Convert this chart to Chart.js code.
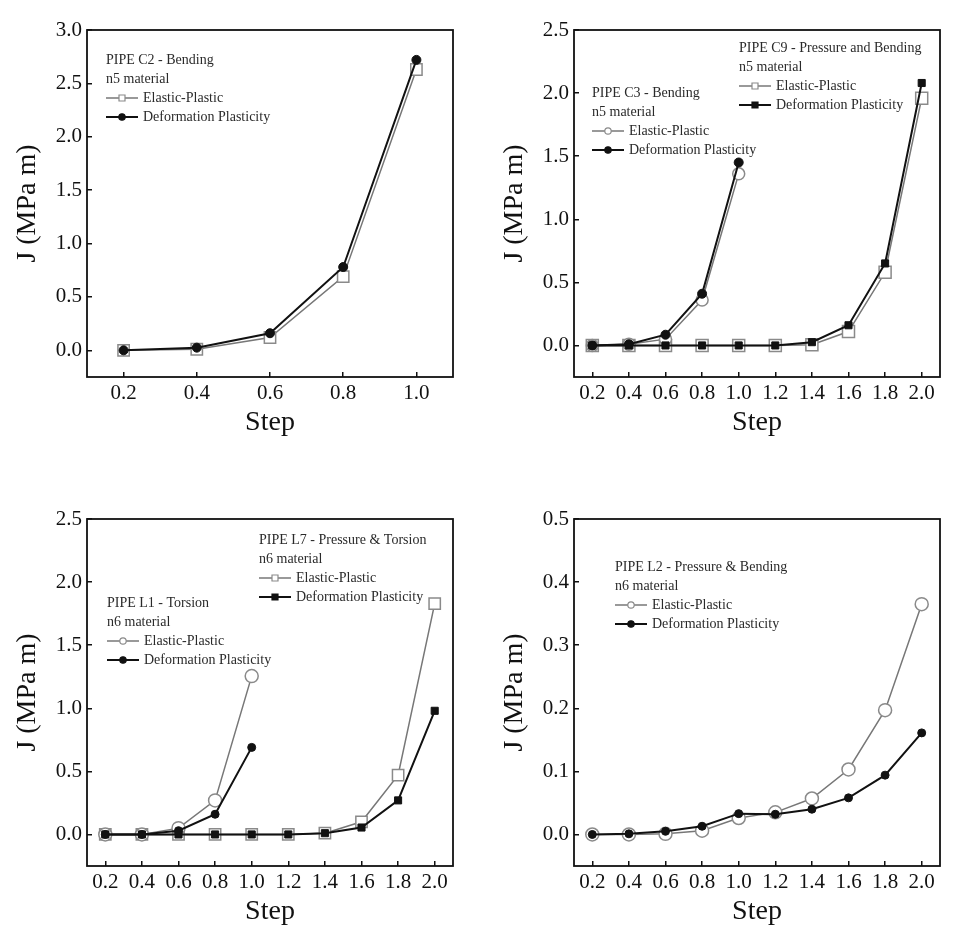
<!DOCTYPE html>
<html>
<head>
<meta charset="utf-8">
<title>J vs Step</title>
<script src="https://cdn.jsdelivr.net/npm/chart.js@4.4.1/dist/chart.umd.min.js"></script>
<style>
    html, body { margin: 0; padding: 0; background: #fff; overflow: hidden; }
    .panel { position: absolute; }
</style>
</head>
<body>
<div class="panel" style="left:0;top:0"><canvas id="chartC2" width="480" height="470"></canvas></div>
<div class="panel" style="left:480px;top:0"><canvas id="chartC3C9" width="480" height="470"></canvas></div>
<div class="panel" style="left:0;top:470px"><canvas id="chartL1L7" width="480" height="473"></canvas></div>
<div class="panel" style="left:480px;top:470px"><canvas id="chartL2" width="480" height="473"></canvas></div>
<script>
// Load steps and tick labels
const stepsShort = [0.2, 0.4, 0.6, 0.8, 1.0];
const stepsLong = [0.2, 0.4, 0.6, 0.8, 1.0, 1.2, 1.4, 1.6, 1.8, 2.0];
const yTicksC2 = [0.0, 0.5, 1.0, 1.5, 2.0, 2.5, 3.0];
const yTicksWide = [0.0, 0.5, 1.0, 1.5, 2.0, 2.5];
const yTicksL2 = [0.0, 0.1, 0.2, 0.3, 0.4, 0.5];

// J values (MPa m)
const c2Elastic = [0.0, 0.01, 0.12, 0.69, 2.63];
const c2Deform = [0.0, 0.025, 0.16, 0.78, 2.72];
const c3Elastic = [0.0, 0.01, 0.05, 0.36, 1.36];
const c3Deform = [0.0, 0.01, 0.085, 0.41, 1.45];
const c9Elastic = [0.0, 0.0, 0.0, 0.0, 0.0, 0.0, 0.005, 0.11, 0.58, 1.96];
const c9Deform = [0.0, 0.0, 0.0, 0.0, 0.0, 0.0, 0.026, 0.16, 0.65, 2.08];
const l1Elastic = [0.0, 0.0, 0.05, 0.27, 1.255];
const l1Deform = [0.0, 0.0, 0.03, 0.16, 0.69];
const l7Elastic = [0.0, 0.0, 0.0, 0.0, 0.0, 0.0, 0.01, 0.10, 0.47, 1.83];
const l7Deform = [0.0, 0.0, 0.0, 0.0, 0.0, 0.0, 0.01, 0.055, 0.27, 0.98];
const l2Elastic = [0.0, 0.0, 0.001, 0.006, 0.026, 0.035, 0.057, 0.103, 0.197, 0.365];
const l2Deform = [0.0, 0.001, 0.005, 0.013, 0.033, 0.032, 0.040, 0.058, 0.094, 0.161];

const SERIF = '"Liberation Serif", "DejaVu Serif", serif';
const GREY_LINE = '#777';
const GREY_MARK = '#8a8a8a';

function toPoints(xs, ys) {
    return xs.map((x, i) => ({ x: x, y: ys[i] }));
}

// open (elastic-plastic) series
function elasticSet(xs, ys, style, radius) {
    return {
        data: toPoints(xs, ys),
        borderColor: GREY_LINE,
        borderWidth: 1.5,
        pointStyle: style,
        pointRadius: radius,
        pointBackgroundColor: '#fff',
        pointBorderColor: GREY_MARK,
        pointBorderWidth: 1.5,
        tension: 0,
        order: 2
    };
}

// filled (deformation plasticity) series
function deformSet(xs, ys, style, radius) {
    return {
        data: toPoints(xs, ys),
        borderColor: '#111',
        borderWidth: 2,
        pointStyle: style,
        pointRadius: radius,
        pointBackgroundColor: '#111',
        pointBorderColor: '#111',
        pointBorderWidth: 1,
        tension: 0,
        order: 1
    };
}

// Box around the plot area
const frameBox = {
    id: 'frameBox',
    afterDraw(chart) {
        const { ctx, chartArea: a } = chart;
        ctx.save();
        ctx.strokeStyle = '#111';
        ctx.lineWidth = 1.8;
        ctx.strokeRect(a.left, a.top, a.right - a.left, a.bottom - a.top);
        ctx.restore();
    }
};

function drawMarker(ctx, style, filled, x, y) {
    ctx.beginPath();
    if (style === 'rect') {
        ctx.rect(x - 3, y - 3, 6, 6);
    } else {
        ctx.arc(x, y, 3.2, 0, Math.PI * 2);
    }
    ctx.fillStyle = filled ? '#111' : '#fff';
    ctx.fill();
    ctx.strokeStyle = filled ? '#111' : GREY_MARK;
    ctx.lineWidth = 1.2;
    ctx.stroke();
}

// Legend blocks drawn inside the plot area
const insetLegend = {
    id: 'insetLegend',
    afterDraw(chart, args, opts) {
        const { ctx, chartArea: a } = chart;
        ctx.save();
        ctx.font = '14px ' + SERIF;
        ctx.textBaseline = 'middle';
        (opts.blocks || []).forEach(b => {
            const x0 = a.left + b.dx;
            let y = a.top + b.dy;
            b.lines.forEach(line => {
                ctx.fillStyle = '#2a2a2a';
                ctx.fillText(line, x0, y);
                y += 19;
            });
            b.items.forEach(item => {
                ctx.beginPath();
                ctx.moveTo(x0, y);
                ctx.lineTo(x0 + 32, y);
                ctx.strokeStyle = item.filled ? '#111' : GREY_LINE;
                ctx.lineWidth = item.filled ? 2 : 1.5;
                ctx.stroke();
                drawMarker(ctx, item.style, item.filled, x0 + 16, y);
                ctx.fillStyle = '#2a2a2a';
                ctx.fillText(item.text, x0 + 37, y);
                y += 19;
            });
        });
        ctx.restore();
    }
};

function legendBlock(dx, dy, lines, openStyle, filledStyle) {
    return {
        dx: dx, dy: dy, lines: lines,
        items: [
            { text: 'Elastic-Plastic', style: openStyle, filled: false },
            { text: 'Deformation Plasticity', style: filledStyle || openStyle, filled: true }
        ]
    };
}

function buildPanel(id, cfg) {
    const canvas = document.getElementById(id);
    const box = cfg.box;
    return new Chart(canvas, {
        type: 'line',
        data: { datasets: cfg.datasets },
        options: {
            responsive: false,
            animation: false,
            events: [],
            layout: {
                padding: { top: box.t, right: canvas.width - box.r, left: 0, bottom: 0 }
            },
            plugins: {
                legend: { display: false },
                tooltip: { enabled: false },
                insetLegend: { blocks: cfg.legends }
            },
            scales: {
                x: {
                    type: 'linear',
                    min: cfg.xMin,
                    max: cfg.xMax,
                    afterBuildTicks: s => { s.ticks = cfg.xTicks.map(v => ({ value: v })); },
                    afterFit: s => { s.height = canvas.height - box.b; },
                    border: { display: false },
                    grid: { drawOnChartArea: false, drawTicks: true, tickLength: -5, color: '#111', lineWidth: 1.5 },
                    ticks: {
                        padding: 9,
                        color: '#111',
                        font: { family: SERIF, size: 21 },
                        callback: v => v.toFixed(1)
                    },
                    title: {
                        display: true,
                        text: 'Step',
                        color: '#111',
                        font: { family: SERIF, size: 28 },
                        padding: { top: 0, bottom: cfg.xTitlePad }
                    }
                },
                y: {
                    type: 'linear',
                    min: cfg.yMin,
                    max: cfg.yMax,
                    afterBuildTicks: s => { s.ticks = cfg.yTicks.map(v => ({ value: v })); },
                    afterFit: s => { s.width = box.l; },
                    border: { display: false },
                    grid: { drawOnChartArea: false, drawTicks: true, tickLength: -5, color: '#111', lineWidth: 1.5 },
                    ticks: {
                        padding: 10,
                        color: '#111',
                        font: { family: SERIF, size: 21 },
                        callback: v => v.toFixed(1)
                    },
                    title: {
                        display: true,
                        text: 'J (MPa m)',
                        color: '#111',
                        font: { family: SERIF, size: 28 },
                        padding: { top: cfg.yTitlePad, bottom: 0 }
                    }
                }
            }
        },
        plugins: [frameBox, insetLegend]
    });
}

// Top left: pipe C2
buildPanel('chartC2', {
    box: { l: 87, t: 30, r: 453, b: 377 },
    xMin: 0.1, xMax: 1.1, xTicks: stepsShort,
    yMin: -0.25, yMax: 3.0, yTicks: yTicksC2,
    xTitlePad: 31, yTitlePad: 11,
    datasets: [
        elasticSet(stepsShort, c2Elastic, 'rect', 8),
        deformSet(stepsShort, c2Deform, 'circle', 4.5)
    ],
    legends: [legendBlock(19, 30, ['PIPE C2 - Bending', 'n5 material'], 'rect', 'circle')]
});

// Top right: pipes C3 and C9
buildPanel('chartC3C9', {
    box: { l: 94, t: 30, r: 460, b: 377 },
    xMin: 0.1, xMax: 2.1, xTicks: stepsLong,
    yMin: -0.25, yMax: 2.5, yTicks: yTicksWide,
    xTitlePad: 31, yTitlePad: 18,
    datasets: [
        elasticSet(stepsShort, c3Elastic, 'circle', 6),
        deformSet(stepsShort, c3Deform, 'circle', 4.5),
        elasticSet(stepsLong, c9Elastic, 'rect', 8.5),
        deformSet(stepsLong, c9Deform, 'rect', 5)
    ],
    legends: [
        legendBlock(165, 18, ['PIPE C9 - Pressure and Bending', 'n5 material'], 'rect'),
        legendBlock(18, 63, ['PIPE C3 - Bending', 'n5 material'], 'circle')
    ]
});

// Bottom left: pipes L1 and L7
buildPanel('chartL1L7', {
    box: { l: 87, t: 49, r: 453, b: 396 },
    xMin: 0.1, xMax: 2.1, xTicks: stepsLong,
    yMin: -0.25, yMax: 2.5, yTicks: yTicksWide,
    xTitlePad: 15, yTitlePad: 11,
    datasets: [
        elasticSet(stepsShort, l1Elastic, 'circle', 6.5),
        deformSet(stepsShort, l1Deform, 'circle', 4),
        elasticSet(stepsLong, l7Elastic, 'rect', 8),
        deformSet(stepsLong, l7Deform, 'rect', 5)
    ],
    legends: [
        legendBlock(172, 21, ['PIPE L7 - Pressure & Torsion', 'n6 material'], 'rect'),
        legendBlock(20, 84, ['PIPE L1 - Torsion', 'n6 material'], 'circle')
    ]
});

// Bottom right: pipe L2
buildPanel('chartL2', {
    box: { l: 94, t: 49, r: 460, b: 396 },
    xMin: 0.1, xMax: 2.1, xTicks: stepsLong,
    yMin: -0.05, yMax: 0.5, yTicks: yTicksL2,
    xTitlePad: 15, yTitlePad: 18,
    datasets: [
        elasticSet(stepsLong, l2Elastic, 'circle', 6.5),
        deformSet(stepsLong, l2Deform, 'circle', 4)
    ],
    legends: [legendBlock(41, 48, ['PIPE L2 - Pressure & Bending', 'n6 material'], 'circle')]
});
</script>
</body>
</html>
